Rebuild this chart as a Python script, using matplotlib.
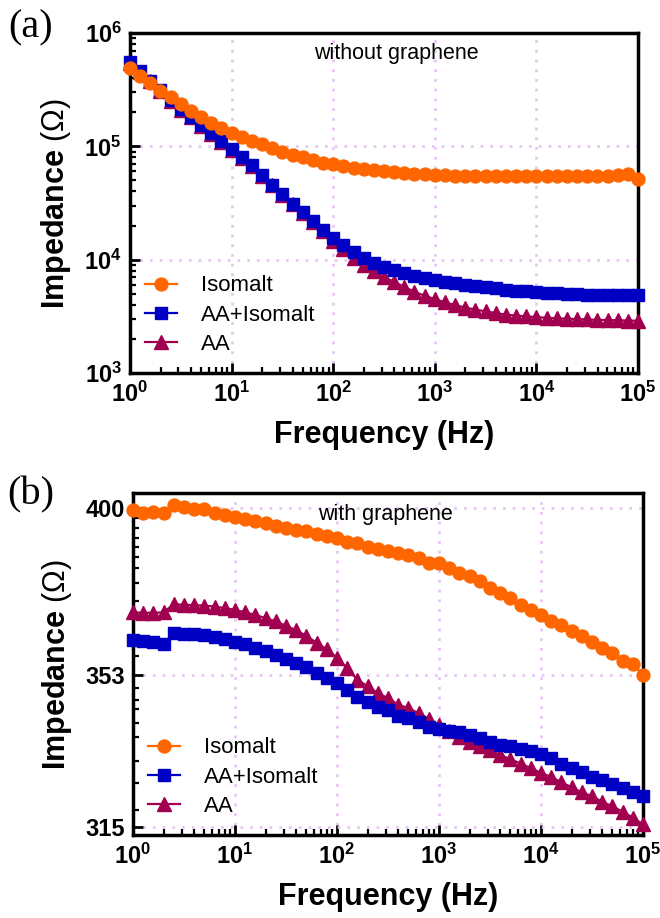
import numpy as np
import matplotlib
matplotlib.use('Agg')
import matplotlib.pyplot as plt
from matplotlib.ticker import FixedLocator, FixedFormatter, LogLocator, NullFormatter

plt.rcParams['font.family'] = ['Liberation Sans', 'DejaVu Sans']
plt.rcParams['mathtext.fontset'] = 'custom'
plt.rcParams['mathtext.rm'] = 'Liberation Sans'
plt.rcParams['mathtext.bf'] = 'Liberation Sans:bold'

# frequency sweep, 10 points per decade
freq = np.logspace(0, 5, 51)
x_ticks = [1, 10, 100, 1e3, 1e4, 1e5]
x_tick_labels = [r'$\mathbf{10^{%d}}$' % k for k in range(6)]

# (a) without graphene, impedance in ohm
isomalt_a = [4.87e5, 4.16e5, 3.59e5, 3.09e5, 2.70e5, 2.35e5, 2.05e5, 1.82e5, 1.62e5, 1.45e5,
             1.32e5, 1.21e5, 1.11e5, 1.04e5, 9.66e4, 8.90e4, 8.44e4, 8.04e4, 7.52e4, 7.17e4,
             7.03e4, 6.69e4, 6.48e4, 6.26e4, 6.13e4, 6.01e4, 5.89e4, 5.80e4, 5.73e4, 5.65e4,
             5.62e4, 5.54e4, 5.48e4, 5.48e4, 5.46e4, 5.43e4, 5.43e4, 5.43e4, 5.43e4, 5.43e4,
             5.46e4, 5.43e4, 5.43e4, 5.43e4, 5.43e4, 5.43e4, 5.46e4, 5.50e4, 5.54e4, 5.65e4, 5.11e4]
aa_isomalt_a = [5.57e5, 4.61e5, 3.80e5, 3.13e5, 2.55e5, 2.13e5, 1.81e5, 1.53e5, 1.30e5, 1.11e5,
                9.41e4, 7.99e4, 6.79e4, 5.54e4, 4.56e4, 3.76e4, 3.13e4, 2.61e4, 2.19e4, 1.84e4,
                1.55e4, 1.34e4, 1.18e4, 1.04e4, 9.41e3, 8.67e3, 8.07e3, 7.56e3, 7.19e3, 6.86e3,
                6.61e3, 6.39e3, 6.17e3, 5.97e3, 5.80e3, 5.69e3, 5.57e3, 5.43e3, 5.32e3, 5.24e3,
                5.14e3, 5.07e3, 5.03e3, 4.97e3, 4.93e3, 4.90e3, 4.90e3, 4.88e3, 4.88e3, 4.88e3, 4.88e3]
aa_a = [5.45e5, 4.55e5, 3.76e5, 3.10e5, 2.53e5, 2.11e5, 1.80e5, 1.52e5, 1.29e5, 1.10e5,
        9.35e4, 7.95e4, 6.75e4, 5.50e4, 4.52e4, 3.72e4, 3.09e4, 2.56e4, 2.15e4, 1.79e4,
        1.47e4, 1.25e4, 1.03e4, 9.03e3, 7.91e3, 7.00e3, 6.39e3, 5.73e3, 5.21e3, 4.80e3,
        4.49e3, 4.21e3, 3.97e3, 3.78e3, 3.62e3, 3.50e3, 3.38e3, 3.27e3, 3.21e3, 3.16e3,
        3.11e3, 3.07e3, 3.04e3, 3.01e3, 2.99e3, 2.97e3, 2.94e3, 2.93e3, 2.92e3, 2.90e3, 2.89e3]
ya_ticks = [1e3, 1e4, 1e5, 1e6]
ya_tick_labels = [r'$\mathbf{10^{%d}}$' % k for k in range(3, 7)]

# (b) with graphene
isomalt_b = [399.4, 398.6, 398.9, 398.4, 400.9, 400.4, 399.6, 399.6, 398.6, 397.9,
             397.2, 396.7, 396.1, 395.4, 394.7, 393.9, 393.4, 393.1, 392.2, 391.6,
             391.0, 390.0, 389.5, 388.5, 388.0, 387.3, 386.6, 386.1, 385.4, 383.9,
             383.7, 382.5, 381.0, 380.0, 378.7, 376.8, 375.3, 374.0, 372.0, 370.7,
             369.3, 367.6, 366.5, 364.7, 363.3, 361.8, 360.3, 358.8, 356.7, 355.8, 353.0]
aa_isomalt_b = [362.2, 362.0, 361.7, 361.3, 364.3, 364.1, 363.9, 363.6, 363.1, 362.5,
                361.8, 361.2, 360.3, 359.3, 358.2, 357.2, 356.2, 355.0, 353.5, 352.2,
                350.8, 349.1, 347.3, 345.8, 344.5, 343.9, 342.3, 341.7, 340.8, 339.4,
                338.9, 338.4, 338.1, 337.4, 336.6, 335.7, 335.0, 334.6, 334.0, 333.4,
                332.8, 331.7, 330.3, 329.3, 328.2, 327.1, 326.3, 325.3, 324.3, 323.3, 322.3]
aa_b = [369.9, 369.8, 369.8, 369.9, 372.2, 372.0, 371.9, 371.8, 371.5, 371.1,
        370.6, 369.9, 369.2, 368.3, 367.4, 366.2, 365.0, 363.4, 361.6, 359.8,
        357.5, 354.7, 351.7, 350.0, 348.2, 346.9, 345.2, 344.3, 343.0, 341.5,
        340.0, 338.5, 337.0, 335.7, 334.6, 333.6, 332.4, 331.4, 330.3, 329.2,
        328.0, 327.0, 325.7, 324.5, 323.3, 322.3, 321.0, 319.9, 318.6, 317.2, 315.6]
yb_ticks = [315, 353, 400]
yb_tick_labels = ['315', '353', '400']
yb_minor = [397, 394, 391, 388.5, 385.5, 382.5, 378, 373, 368, 363, 358,
            349.5, 346.5, 344, 340.5, 337, 331, 325.5, 319]

c_iso = '#ff6600'
c_aai = '#0000c4'
c_aa = '#a0004f'
grid_col = '#e8c6f4'

fig = plt.figure(figsize=(6.6, 9.18), dpi=100)
ax1 = fig.add_axes([130/660, 1-373/918, 508/660, 340/918])
ax2 = fig.add_axes([133/660, 1-835/918, 510/660, 342/918])


def draw(ax, iso, aai, aa):
    l3, = ax.plot(freq, aa, '-^', color=c_aa, ms=9.5, lw=1.6, clip_on=False, zorder=3)
    l2, = ax.plot(freq, aai, '-s', color=c_aai, ms=8.3, lw=1.6, clip_on=False, zorder=4)
    l1, = ax.plot(freq, iso, '-o', color=c_iso, ms=9.3, lw=1.6, clip_on=False, zorder=5)
    ax.set_xscale('log')
    ax.set_yscale('log')
    ax.set_xlim(1, 1e5)
    ax.xaxis.set_major_locator(FixedLocator(x_ticks))
    ax.xaxis.set_major_formatter(FixedFormatter(x_tick_labels))
    ax.xaxis.set_minor_locator(LogLocator(base=10, subs=np.arange(2, 10), numticks=20))
    ax.xaxis.set_minor_formatter(NullFormatter())
    for s in ax.spines.values():
        s.set_linewidth(2.5)
    ax.tick_params(which='major', direction='in', length=7, width=2, labelsize=17, pad=6)
    ax.tick_params(which='minor', direction='in', length=4, width=1.6)
    ax.grid(True, which='major', color=grid_col, ls=(0, (1, 2.5)), lw=2)
    ax.set_axisbelow(True)
    ax.set_xlabel('Frequency (Hz)', fontsize=22, fontweight='bold', labelpad=10)
    ax.set_ylabel(r'Impedance $\mathrm{(\Omega)}$', fontsize=22, fontweight='bold', labelpad=8)
    ax.legend([l1, l2, l3], ['Isomalt', 'AA+Isomalt', 'AA'], loc='lower left',
              bbox_to_anchor=(-0.005, 0.0), frameon=False, fontsize=16,
              handlelength=1.45, handletextpad=1.05, labelspacing=0.38, borderpad=0.3)


draw(ax1, isomalt_a, aa_isomalt_a, aa_a)
ax1.set_ylim(1e3, 1e6)
ax1.yaxis.set_major_locator(FixedLocator(ya_ticks))
ax1.yaxis.set_major_formatter(FixedFormatter(ya_tick_labels))
ax1.yaxis.set_minor_locator(LogLocator(base=10, subs=np.arange(2, 10), numticks=20))
ax1.yaxis.set_minor_formatter(NullFormatter())
ax1.text(0.525, 0.94, 'without graphene', transform=ax1.transAxes, fontsize=15.5,
         ha='center', va='center')

draw(ax2, isomalt_b, aa_isomalt_b, aa_b)
ax2.set_ylim(313.1, 404.5)
ax2.yaxis.set_major_locator(FixedLocator(yb_ticks))
ax2.yaxis.set_major_formatter(FixedFormatter(yb_tick_labels))
ax2.yaxis.set_minor_locator(FixedLocator(yb_minor))
ax2.yaxis.set_minor_formatter(NullFormatter())
for lab in ax2.get_yticklabels():
    lab.set_fontweight('bold')
ax2.text(0.495, 0.936, 'with graphene', transform=ax2.transAxes, fontsize=15.5,
         ha='center', va='center')

fig.text(31/660, 1-28/918, '(a)', fontsize=29, family='Liberation Serif', ha='center', va='center')
fig.text(31/660, 1-495/918, '(b)', fontsize=29, family='Liberation Serif', ha='center', va='center')

fig.savefig('out.png', dpi=100)
